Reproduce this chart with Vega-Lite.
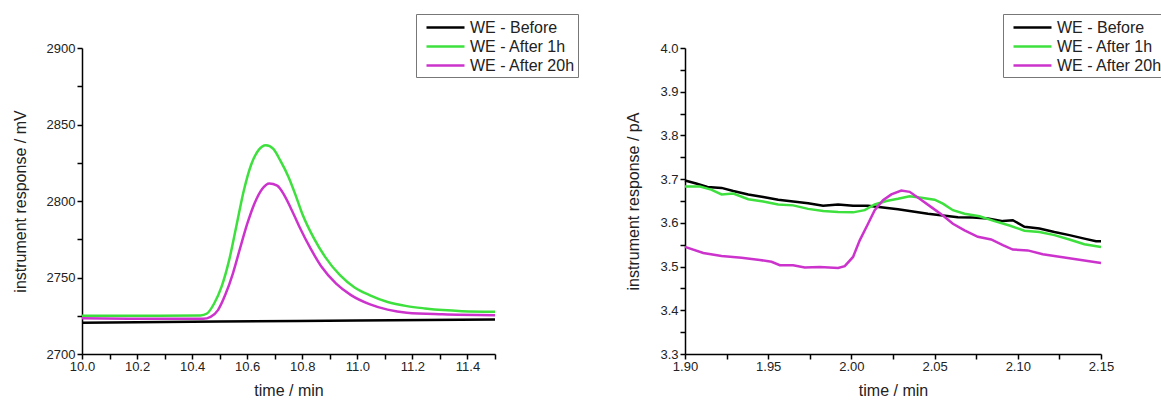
{
  "$schema": "https://vega.github.io/schema/vega-lite/v6.json",
  "padding": {"left": 12, "top": 13, "right": 0, "bottom": 0},
  "background": "white",
  "spacing": 190,
  "bounds": "flush",
  "config": {
    "font": "Liberation Sans",
    "view": {"stroke": null},
    "axis": {"domainColor": "#000", "domainWidth": 1.5, "ticks": true, "tickSize": 5, "tickColor": "#000000", "tickOpacity": 1, "tickWidth": 1.5, "labelFontSize": 13, "labelColor": "#222", "titleFontSize": 16, "titleFontWeight": "normal", "titleColor": "#222", "grid": false, "labelPadding": 2, "labelFlush": false, "labelOverlap": false, "labelBound": false},
    "axisY": {"titlePadding": 18},
    "axisX": {"titlePadding": 9, "labelPadding": 1},
    "legend": {"labelFontSize": 16, "labelColor": "#222", "symbolType": "M-0.333,0H3.889", "symbolStrokeWidth": 2.5, "symbolSize": 324, "strokeColor": "#777", "fillColor": "#fff", "padding": 3, "rowPadding": -2, "labelOffset": 30, "orient": "none", "title": null, "labelLimit": 300}
  },
  "datasets": {
    "left": [
      {"t": 10.0, "v": 2720.5, "s": "WE - Before"},
      {"t": 10.5, "v": 2721.2, "s": "WE - Before"},
      {"t": 11.0, "v": 2721.9, "s": "WE - Before"},
      {"t": 11.5, "v": 2722.5, "s": "WE - Before"},
      {"t": 10.0, "v": 2725.0, "s": "WE - After 1h"},
      {"t": 10.2, "v": 2725.0, "s": "WE - After 1h"},
      {"t": 10.43, "v": 2725.2, "s": "WE - After 1h"},
      {"t": 10.454, "v": 2726.5, "s": "WE - After 1h"},
      {"t": 10.48, "v": 2733, "s": "WE - After 1h"},
      {"t": 10.507, "v": 2744, "s": "WE - After 1h"},
      {"t": 10.534, "v": 2761, "s": "WE - After 1h"},
      {"t": 10.56, "v": 2783, "s": "WE - After 1h"},
      {"t": 10.588, "v": 2807, "s": "WE - After 1h"},
      {"t": 10.615, "v": 2824, "s": "WE - After 1h"},
      {"t": 10.64, "v": 2833, "s": "WE - After 1h"},
      {"t": 10.668, "v": 2836.5, "s": "WE - After 1h"},
      {"t": 10.695, "v": 2834, "s": "WE - After 1h"},
      {"t": 10.72, "v": 2826.5, "s": "WE - After 1h"},
      {"t": 10.75, "v": 2815.7, "s": "WE - After 1h"},
      {"t": 10.776, "v": 2803.7, "s": "WE - After 1h"},
      {"t": 10.8, "v": 2791.7, "s": "WE - After 1h"},
      {"t": 10.843, "v": 2775.4, "s": "WE - After 1h"},
      {"t": 10.883, "v": 2763.5, "s": "WE - After 1h"},
      {"t": 10.937, "v": 2751.5, "s": "WE - After 1h"},
      {"t": 10.99, "v": 2743.5, "s": "WE - After 1h"},
      {"t": 11.044, "v": 2738.5, "s": "WE - After 1h"},
      {"t": 11.11, "v": 2734, "s": "WE - After 1h"},
      {"t": 11.18, "v": 2731.3, "s": "WE - After 1h"},
      {"t": 11.246, "v": 2729.8, "s": "WE - After 1h"},
      {"t": 11.31, "v": 2728.7, "s": "WE - After 1h"},
      {"t": 11.38, "v": 2728, "s": "WE - After 1h"},
      {"t": 11.5, "v": 2727.6, "s": "WE - After 1h"},
      {"t": 10.0, "v": 2723.3, "s": "WE - After 20h"},
      {"t": 10.2, "v": 2723.0, "s": "WE - After 20h"},
      {"t": 10.44, "v": 2723.0, "s": "WE - After 20h"},
      {"t": 10.467, "v": 2724.3, "s": "WE - After 20h"},
      {"t": 10.494, "v": 2728.7, "s": "WE - After 20h"},
      {"t": 10.52, "v": 2738.5, "s": "WE - After 20h"},
      {"t": 10.548, "v": 2752.6, "s": "WE - After 20h"},
      {"t": 10.574, "v": 2769, "s": "WE - After 20h"},
      {"t": 10.6, "v": 2785, "s": "WE - After 20h"},
      {"t": 10.628, "v": 2799, "s": "WE - After 20h"},
      {"t": 10.655, "v": 2808, "s": "WE - After 20h"},
      {"t": 10.68, "v": 2811.5, "s": "WE - After 20h"},
      {"t": 10.709, "v": 2810, "s": "WE - After 20h"},
      {"t": 10.735, "v": 2803.7, "s": "WE - After 20h"},
      {"t": 10.762, "v": 2794, "s": "WE - After 20h"},
      {"t": 10.79, "v": 2783, "s": "WE - After 20h"},
      {"t": 10.83, "v": 2769, "s": "WE - After 20h"},
      {"t": 10.87, "v": 2757, "s": "WE - After 20h"},
      {"t": 10.923, "v": 2746, "s": "WE - After 20h"},
      {"t": 10.977, "v": 2738.5, "s": "WE - After 20h"},
      {"t": 11.044, "v": 2732.6, "s": "WE - After 20h"},
      {"t": 11.11, "v": 2729, "s": "WE - After 20h"},
      {"t": 11.18, "v": 2727, "s": "WE - After 20h"},
      {"t": 11.31, "v": 2726, "s": "WE - After 20h"},
      {"t": 11.5, "v": 2725.4, "s": "WE - After 20h"}
    ],
    "right": [
      {"t": 1.9, "v": 3.697, "s": "WE - Before"},
      {"t": 1.9067, "v": 3.69, "s": "WE - Before"},
      {"t": 1.9135, "v": 3.682, "s": "WE - Before"},
      {"t": 1.922, "v": 3.68, "s": "WE - Before"},
      {"t": 1.929, "v": 3.673, "s": "WE - Before"},
      {"t": 1.938, "v": 3.665, "s": "WE - Before"},
      {"t": 1.947, "v": 3.659, "s": "WE - Before"},
      {"t": 1.956, "v": 3.653, "s": "WE - Before"},
      {"t": 1.965, "v": 3.649, "s": "WE - Before"},
      {"t": 1.974, "v": 3.645, "s": "WE - Before"},
      {"t": 1.983, "v": 3.639, "s": "WE - Before"},
      {"t": 1.992, "v": 3.642, "s": "WE - Before"},
      {"t": 2.001, "v": 3.639, "s": "WE - Before"},
      {"t": 2.01, "v": 3.639, "s": "WE - Before"},
      {"t": 2.019, "v": 3.635, "s": "WE - Before"},
      {"t": 2.028, "v": 3.631, "s": "WE - Before"},
      {"t": 2.037, "v": 3.626, "s": "WE - Before"},
      {"t": 2.046, "v": 3.621, "s": "WE - Before"},
      {"t": 2.055, "v": 3.617, "s": "WE - Before"},
      {"t": 2.064, "v": 3.613, "s": "WE - Before"},
      {"t": 2.073, "v": 3.612, "s": "WE - Before"},
      {"t": 2.082, "v": 3.61, "s": "WE - Before"},
      {"t": 2.091, "v": 3.604, "s": "WE - Before"},
      {"t": 2.097, "v": 3.606, "s": "WE - Before"},
      {"t": 2.104, "v": 3.591, "s": "WE - Before"},
      {"t": 2.113, "v": 3.587, "s": "WE - Before"},
      {"t": 2.122, "v": 3.579, "s": "WE - Before"},
      {"t": 2.131, "v": 3.572, "s": "WE - Before"},
      {"t": 2.14, "v": 3.564, "s": "WE - Before"},
      {"t": 2.147, "v": 3.558, "s": "WE - Before"},
      {"t": 2.15, "v": 3.558, "s": "WE - Before"},
      {"t": 1.9, "v": 3.683, "s": "WE - After 1h"},
      {"t": 1.909, "v": 3.683, "s": "WE - After 1h"},
      {"t": 1.9157, "v": 3.676, "s": "WE - After 1h"},
      {"t": 1.922, "v": 3.665, "s": "WE - After 1h"},
      {"t": 1.929, "v": 3.667, "s": "WE - After 1h"},
      {"t": 1.938, "v": 3.654, "s": "WE - After 1h"},
      {"t": 1.947, "v": 3.649, "s": "WE - After 1h"},
      {"t": 1.956, "v": 3.642, "s": "WE - After 1h"},
      {"t": 1.965, "v": 3.64, "s": "WE - After 1h"},
      {"t": 1.974, "v": 3.632, "s": "WE - After 1h"},
      {"t": 1.983, "v": 3.627, "s": "WE - After 1h"},
      {"t": 1.992, "v": 3.625, "s": "WE - After 1h"},
      {"t": 2.001, "v": 3.624, "s": "WE - After 1h"},
      {"t": 2.008, "v": 3.629, "s": "WE - After 1h"},
      {"t": 2.014, "v": 3.642, "s": "WE - After 1h"},
      {"t": 2.021, "v": 3.65, "s": "WE - After 1h"},
      {"t": 2.028, "v": 3.655, "s": "WE - After 1h"},
      {"t": 2.035, "v": 3.661, "s": "WE - After 1h"},
      {"t": 2.041, "v": 3.658, "s": "WE - After 1h"},
      {"t": 2.05, "v": 3.653, "s": "WE - After 1h"},
      {"t": 2.055, "v": 3.644, "s": "WE - After 1h"},
      {"t": 2.061, "v": 3.629, "s": "WE - After 1h"},
      {"t": 2.068, "v": 3.621, "s": "WE - After 1h"},
      {"t": 2.077, "v": 3.615, "s": "WE - After 1h"},
      {"t": 2.086, "v": 3.604, "s": "WE - After 1h"},
      {"t": 2.095, "v": 3.594, "s": "WE - After 1h"},
      {"t": 2.104, "v": 3.582, "s": "WE - After 1h"},
      {"t": 2.113, "v": 3.579, "s": "WE - After 1h"},
      {"t": 2.122, "v": 3.572, "s": "WE - After 1h"},
      {"t": 2.131, "v": 3.562, "s": "WE - After 1h"},
      {"t": 2.14, "v": 3.551, "s": "WE - After 1h"},
      {"t": 2.15, "v": 3.545, "s": "WE - After 1h"},
      {"t": 1.9, "v": 3.545, "s": "WE - After 20h"},
      {"t": 1.911, "v": 3.531, "s": "WE - After 20h"},
      {"t": 1.922, "v": 3.524, "s": "WE - After 20h"},
      {"t": 1.934, "v": 3.52, "s": "WE - After 20h"},
      {"t": 1.945, "v": 3.515, "s": "WE - After 20h"},
      {"t": 1.952, "v": 3.511, "s": "WE - After 20h"},
      {"t": 1.957, "v": 3.503, "s": "WE - After 20h"},
      {"t": 1.965, "v": 3.503, "s": "WE - After 20h"},
      {"t": 1.972, "v": 3.498, "s": "WE - After 20h"},
      {"t": 1.981, "v": 3.499, "s": "WE - After 20h"},
      {"t": 1.992, "v": 3.497, "s": "WE - After 20h"},
      {"t": 1.996, "v": 3.501, "s": "WE - After 20h"},
      {"t": 2.001, "v": 3.522, "s": "WE - After 20h"},
      {"t": 2.005, "v": 3.56, "s": "WE - After 20h"},
      {"t": 2.01, "v": 3.598, "s": "WE - After 20h"},
      {"t": 2.014, "v": 3.629, "s": "WE - After 20h"},
      {"t": 2.019, "v": 3.652, "s": "WE - After 20h"},
      {"t": 2.024, "v": 3.665, "s": "WE - After 20h"},
      {"t": 2.03, "v": 3.674, "s": "WE - After 20h"},
      {"t": 2.035, "v": 3.671, "s": "WE - After 20h"},
      {"t": 2.041, "v": 3.655, "s": "WE - After 20h"},
      {"t": 2.048, "v": 3.636, "s": "WE - After 20h"},
      {"t": 2.055, "v": 3.617, "s": "WE - After 20h"},
      {"t": 2.061, "v": 3.598, "s": "WE - After 20h"},
      {"t": 2.068, "v": 3.583, "s": "WE - After 20h"},
      {"t": 2.076, "v": 3.568, "s": "WE - After 20h"},
      {"t": 2.084, "v": 3.562, "s": "WE - After 20h"},
      {"t": 2.091, "v": 3.549, "s": "WE - After 20h"},
      {"t": 2.097, "v": 3.539, "s": "WE - After 20h"},
      {"t": 2.106, "v": 3.537, "s": "WE - After 20h"},
      {"t": 2.115, "v": 3.528, "s": "WE - After 20h"},
      {"t": 2.126, "v": 3.522, "s": "WE - After 20h"},
      {"t": 2.138, "v": 3.515, "s": "WE - After 20h"},
      {"t": 2.15, "v": 3.508, "s": "WE - After 20h"}
    ]
  },
  "resolve": {"scale": {"x": "independent", "y": "independent"}, "legend": {"color": "independent"}},
  "hconcat": [
    {
      "width": 413,
      "height": 306,
      "data": {"name": "left"},
      "mark": {"type": "line", "strokeWidth": 2.5, "interpolate": "monotone"},
      "encoding": {
        "x": {"field": "t", "type": "quantitative", "title": "time / min",
          "scale": {"domain": [10, 11.5], "nice": false, "zero": false},
          "axis": {"ticks": true, "tickSize": 5, "values": [10.0, 10.1, 10.2, 10.3, 10.4, 10.5, 10.6, 10.7, 10.8, 10.9, 11.0, 11.1, 11.2, 11.3, 11.4, 11.5],
            "labelExpr": "abs(datum.value*5 - round(datum.value*5)) < 0.001 ? format(datum.value, '.1f') : ''"}},
        "y": {"field": "v", "type": "quantitative", "title": "instrument response / mV",
          "scale": {"domain": [2700, 2900], "nice": false, "zero": false},
          "axis": {"ticks": true, "tickSize": 5, "values": [2700, 2725, 2750, 2775, 2800, 2825, 2850, 2875, 2900],
            "labelExpr": "datum.value % 50 == 0 ? format(datum.value, 'd') : ''"}},
        "color": {"field": "s", "type": "nominal",
          "scale": {"domain": ["WE - Before", "WE - After 1h", "WE - After 20h"], "range": ["#000000", "#3ee03e", "#cc33cc"]},
          "legend": {"legendX": 334, "legendY": -34}}
      }
    },
    {
      "width": 416,
      "height": 306,
      "data": {"name": "right"},
      "mark": {"type": "line", "strokeWidth": 2.5},
      "encoding": {
        "x": {"field": "t", "type": "quantitative", "title": "time / min",
          "scale": {"domain": [1.9, 2.15], "nice": false, "zero": false},
          "axis": {"ticks": true, "tickSize": 5, "values": [1.9, 1.925, 1.95, 1.975, 2.0, 2.025, 2.05, 2.075, 2.1, 2.125, 2.15],
            "labelExpr": "abs(datum.value*20 - round(datum.value*20)) < 0.001 ? format(datum.value, '.2f') : ''"}},
        "y": {"field": "v", "type": "quantitative", "title": "instrument response / pA",
          "scale": {"domain": [3.3, 4.0], "nice": false, "zero": false},
          "axis": {"ticks": true, "tickSize": 5, "values": [3.3, 3.35, 3.4, 3.45, 3.5, 3.55, 3.6, 3.65, 3.7, 3.75, 3.8, 3.85, 3.9, 3.95, 4.0],
            "labelExpr": "abs(datum.value*10 - round(datum.value*10)) < 0.001 ? format(datum.value, '.1f') : ''"}},
        "color": {"field": "s", "type": "nominal",
          "scale": {"domain": ["WE - Before", "WE - After 1h", "WE - After 20h"], "range": ["#000000", "#3ee03e", "#cc33cc"]},
          "legend": {"legendX": 318, "legendY": -34}}
      }
    }
  ]
}
